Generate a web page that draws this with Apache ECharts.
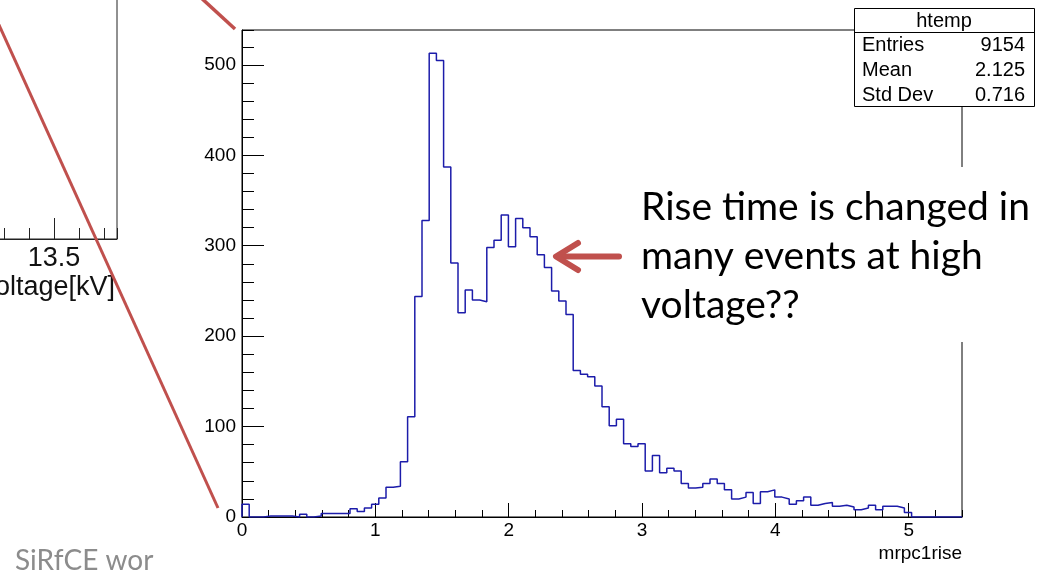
<!DOCTYPE html>
<html>
<head>
<meta charset="utf-8">
<script src="https://cdn.jsdelivr.net/npm/echarts@6/dist/echarts.min.js"></script>
<style>
  html, body { margin: 0; padding: 0; background: #fff; }
  #c { width: 1050px; height: 576px; }
</style>
</head>
<body>
<div id="c"></div>
<script>
// mrpc1rise distribution, 100 equal bins over [0, 5.4]
const X_MIN = 0;
const X_MAX = 5.4;
const N_BINS = 100;
const Y_MAX = 538.6;

const counts = [
  14, 0, 0, 1, 1, 1, 1, 0, 3, 0, 1, 4, 4, 4, 4, 9, 6, 10, 14, 21, 33, 34, 61,
  111, 244, 328, 513, 505, 387, 281, 226, 251, 240, 238,
  298, 306, 334, 299, 330, 320, 310, 290, 276, 250, 239, 224,
  162, 158, 155, 145, 122, 101, 108, 81, 78, 81, 51, 68, 49, 54,
  51, 37, 32, 33, 37, 42, 37, 30, 20, 22, 27, 15, 28, 30, 22, 20, 14, 18, 22,
  13, 15, 16, 12, 13, 11, 8, 10, 13, 8, 12, 12, 10, 5,
  0, 0, 0, 0, 0, 0, 0
];

// statistics panel
const statsTitle = 'htemp';
const statLabels = ['Entries', 'Mean', 'Std Dev'];
const statValues = ['9154', '2.125', '0.716'];

// annotation and footer
const noteLines = ['Rise time is changed in', 'many events at high', 'voltage??'];
const footerText = 'SiRfCE wor';

// neighbouring HV-scan panel, only its right end is on the page
const hvMin = 13.0;
const hvMax = 13.752;
const hvName = 'Voltage[kV]';
const xName = 'mrpc1rise';

// step outline of the histogram built from the bin edges
const binW = (X_MAX - X_MIN) / N_BINS;
const steps = [[X_MIN, 0]];
counts.forEach(function (c, i) {
  const x0 = X_MIN + i * binW;
  steps.push([x0, c], [x0 + binW, c]);
});
steps.push([X_MAX, 0]);

const RED = '#c0504d';
const LABEL_FONT = 'Liberation Sans';
const SLIDE_FONT = 'Lato';

const chart = echarts.init(document.getElementById('c'), null, { renderer: 'canvas' });

const statsGraphics = [
  { type: 'rect', z: 60, shape: { x: 854.5, y: 8.5, width: 180, height: 98 },
    style: { fill: '#fff', stroke: '#000', lineWidth: 1 } },
  { type: 'line', z: 61, shape: { x1: 854.5, y1: 32.5, x2: 1034.5, y2: 32.5 },
    style: { stroke: '#000', lineWidth: 1 } },
  { type: 'text', z: 62, style: { text: statsTitle, x: 944, y: 21, align: 'center', verticalAlign: 'middle',
    fontFamily: LABEL_FONT, fontSize: 20, fill: '#000' } }
];
statLabels.forEach(function (lab, i) {
  const y = 45.5 + i * 25;
  statsGraphics.push(
    { type: 'text', z: 62, style: { text: lab, x: 862, y: y, align: 'left', verticalAlign: 'middle',
      fontFamily: LABEL_FONT, fontSize: 20, fill: '#000' } },
    { type: 'text', z: 62, style: { text: statValues[i], x: 1025, y: y, align: 'right', verticalAlign: 'middle',
      fontFamily: LABEL_FONT, fontSize: 20, fill: '#000' } }
  );
});

const noteGraphics = [
  // white text frame of the slide annotation
  { type: 'rect', z: 50, shape: { x: 632, y: 167, width: 418, height: 175 }, style: { fill: '#fff' } }
];
noteLines.forEach(function (t, i) {
  noteGraphics.push({ type: 'text', z: 55, style: { text: t, x: 641, y: 207 + i * 49,
    align: 'left', verticalAlign: 'middle', fontFamily: SLIDE_FONT, fontSize: 39, fill: '#000' } });
});

const lineGraphics = [
  // zoom guide lines
  { type: 'line', z: 70, shape: { x1: -6, y1: 14, x2: 218, y2: 508 },
    style: { stroke: RED, lineWidth: 3 } },
  { type: 'line', z: 70, shape: { x1: 198, y1: -5, x2: 235, y2: 29 },
    style: { stroke: RED, lineWidth: 3.5 } },
  // arrow pointing at the shoulder
  { type: 'line', z: 70, shape: { x1: 558, y1: 256.5, x2: 619, y2: 256.5 },
    style: { stroke: RED, lineWidth: 6, lineCap: 'round' } },
  { type: 'polyline', z: 70, shape: { points: [[578, 243], [556, 256.5], [578, 270]] },
    style: { stroke: RED, lineWidth: 6, fill: null, lineCap: 'round', lineJoin: 'round' } },
  { type: 'text', z: 70, style: { text: footerText, x: 15, y: 561, align: 'left', verticalAlign: 'middle',
    fontFamily: SLIDE_FONT, fontSize: 28, fill: '#8c8c8c' } }
];

const axisLabelStyle = { fontFamily: LABEL_FONT, fontSize: 19, color: '#000' };

chart.setOption({
  animation: false,
  backgroundColor: '#fff',
  grid: [
    { left: 242, top: 30, width: 720, height: 487, show: true, borderColor: '#000', borderWidth: 1,
      backgroundColor: 'transparent', containLabel: false, outerBoundsMode: 'none' },
    { left: -71, top: -100, width: 188, height: 339, show: true, borderColor: '#222', borderWidth: 1,
      backgroundColor: 'transparent', containLabel: false, outerBoundsMode: 'none' }
  ],
  xAxis: [
    { gridIndex: 0, type: 'value', position: 'bottom', min: X_MIN, max: X_MAX, interval: 1,
      axisLine: { show: true, lineStyle: { color: '#000', width: 1 } },
      axisTick: { show: true, inside: true, length: 14, lineStyle: { color: '#000' } },
      axisLabel: Object.assign({ margin: 4, showMaxLabel: false }, axisLabelStyle),
      splitLine: { show: false },
      name: xName, nameLocation: 'end', nameGap: 0,
      nameTextStyle: { fontFamily: LABEL_FONT, fontSize: 19, color: '#000', align: 'right',
        verticalAlign: 'top', padding: [27, 0, 0, 0] } },
    { gridIndex: 0, type: 'value', position: 'bottom', min: X_MIN, max: X_MAX, interval: 0.2,
      axisLine: { show: false },
      axisTick: { show: true, inside: true, length: 7, lineStyle: { color: '#000' } },
      axisLabel: { show: false }, splitLine: { show: false } },
    { gridIndex: 1, type: 'value', position: 'bottom', min: hvMin, max: hvMax, interval: 0.5,
      axisLine: { show: true, lineStyle: { color: '#222', width: 1 } },
      axisTick: { show: true, inside: true, length: 21, lineStyle: { color: '#222' } },
      axisLabel: { margin: 6, showMaxLabel: false, showMinLabel: false, fontFamily: LABEL_FONT,
        fontSize: 27, color: '#111', formatter: function (v) { return v.toFixed(1); } },
      splitLine: { show: false },
      name: hvName, nameLocation: 'end', nameGap: -2,
      nameTextStyle: { fontFamily: LABEL_FONT, fontSize: 27, color: '#111', align: 'right',
        verticalAlign: 'top', padding: [35, 0, 0, 0] } },
    { gridIndex: 1, type: 'value', position: 'bottom', min: hvMin, max: hvMax, interval: 0.1,
      axisLine: { show: false },
      axisTick: { show: true, inside: true, length: 11, lineStyle: { color: '#222' } },
      axisLabel: { show: false }, splitLine: { show: false } }
  ],
  yAxis: [
    { gridIndex: 0, type: 'value', position: 'left', min: 0, max: Y_MAX, interval: 100,
      axisLine: { show: true, lineStyle: { color: '#000', width: 1 } },
      axisTick: { show: true, inside: true, length: 22, lineStyle: { color: '#000' } },
      axisLabel: Object.assign({ margin: 6, showMaxLabel: false }, axisLabelStyle),
      splitLine: { show: false } },
    { gridIndex: 0, type: 'value', position: 'left', min: 0, max: Y_MAX, interval: 20,
      axisLine: { show: false },
      axisTick: { show: true, inside: true, length: 12, lineStyle: { color: '#000' } },
      axisLabel: { show: false }, splitLine: { show: false } },
    { gridIndex: 1, type: 'value', position: 'left', min: 0, max: 1, show: false }
  ],
  series: [
    { type: 'line', xAxisIndex: 0, yAxisIndex: 0, data: steps, showSymbol: false, symbol: 'none',
      lineStyle: { color: '#1c1caa', width: 1.5 }, z: 5, clip: true }
  ],
  graphic: { elements: noteGraphics.concat(statsGraphics, lineGraphics) }
});
</script>
</body>
</html>
